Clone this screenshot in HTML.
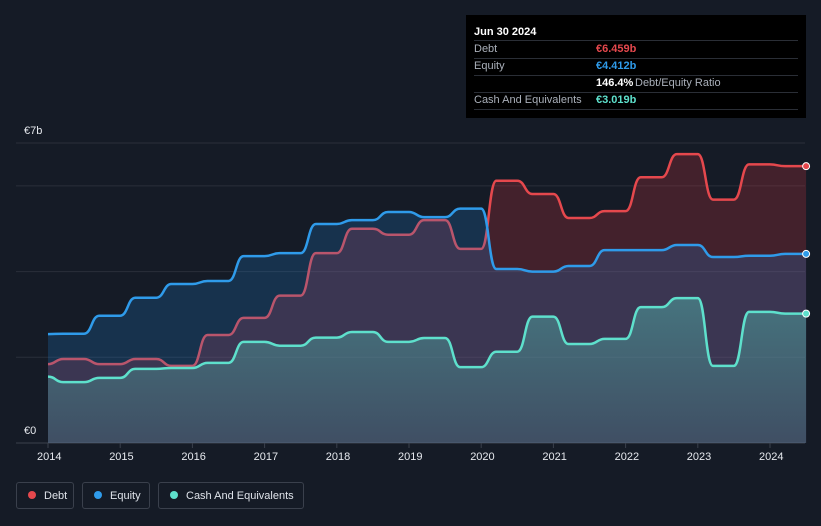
<!DOCTYPE html>
<html><head><meta charset="utf-8"><style>
body{margin:0;background:#151b26;font-family:"Liberation Sans",sans-serif;}
#wrap{position:relative;width:821px;height:526px;overflow:hidden;background:#151b26}
.tt{position:absolute;left:466px;top:15px;width:340px;height:103px;background:#000;color:#fff;font-size:11px}
.row{position:absolute;left:8px;right:8px;height:17px;border-bottom:1px solid #2a2e36;}
.row span{position:absolute;top:2px}
.lg{position:absolute;top:482px;height:27px;border:1px solid #3a404c;border-radius:3px;color:#dfe3ea;font-size:11px;line-height:27px;box-sizing:border-box}
.dot{display:inline-block;width:8px;height:8px;border-radius:50%;margin:0 8px 0 11px;vertical-align:-0px}
.ax{position:absolute;color:#e6e9ee;font-size:11px}
</style></head><body>
<div id="wrap">
<svg id="svg" width="821" height="526" style="position:absolute;left:0;top:0">
<defs>
<linearGradient id="gc" x1="0" y1="0" x2="0" y2="1"><stop offset="0" stop-color="#4fa6a2" stop-opacity="0.55"/><stop offset="1" stop-color="#4fa6a2" stop-opacity="0.22"/></linearGradient>
</defs>
<g id="grid"></g><g id="series"></g><g id="markers"></g>
</svg>
<div class="ax" style="left:24px;top:125px">€7b</div>
<div class="ax" style="left:24px;top:425px">€0</div>
<div id="xl"></div>
<div class="tt">
<div class="row" style="top:8px;border-bottom:1px solid #2a2e36;height:17px"><span style="font-weight:bold;top:3px">Jun 30 2024</span></div>
<div class="row" style="top:26px"><span style="color:#aab0ba">Debt</span><span style="left:122px;color:#e5484d;font-weight:bold">€6.459b</span></div>
<div class="row" style="top:43px"><span style="color:#aab0ba">Equity</span><span style="left:122px;color:#2f9bea;font-weight:bold">€4.412b</span></div>
<div class="row" style="top:60px"><span style="left:122px;font-weight:bold">146.4%</span><span style="left:161px;color:#aab0ba">Debt/Equity Ratio</span></div>
<div class="row" style="top:77px"><span style="color:#aab0ba">Cash And Equivalents</span><span style="left:122px;color:#5ee0cc;font-weight:bold">€3.019b</span></div>
</div>
<div class="lg" style="left:16px;width:58px"><span class="dot" style="background:#e5484d"></span>Debt</div>
<div class="lg" style="left:82px;width:68px"><span class="dot" style="background:#2f9bea"></span>Equity</div>
<div class="lg" style="left:158px;width:146px"><span class="dot" style="background:#5ee0cc"></span>Cash And Equivalents</div>
</div>
<script>
const periods=[2014,2014.5,2015,2015.5,2016,2016.5,2017,2017.5,2018,2018.5,2019,2019.5,2020,2020.5,2021,2021.5,2022,2022.5,2023,2023.5,2024,2024.5];
const debt=[1.84,1.96,1.84,1.96,1.80,2.52,2.92,3.44,4.43,5.0,4.86,5.2,4.53,6.12,5.81,5.25,5.41,6.2,6.74,5.68,6.50,6.459];
const equity=[2.54,2.55,2.97,3.39,3.71,3.78,4.36,4.43,5.11,5.20,5.39,5.27,5.47,4.06,4.00,4.13,4.50,4.50,4.62,4.34,4.37,4.412];
const cash=[1.55,1.42,1.52,1.73,1.75,1.87,2.36,2.27,2.46,2.59,2.36,2.45,1.77,2.13,2.95,2.31,2.43,3.17,3.38,1.80,3.06,3.019];
const yearTicks=[2014,2015,2016,2017,2018,2019,2020,2021,2022,2023,2024];
const yGrid=[0,2,4,6,7];
const X=t=>48+(t-2014)*72.2, Y=v=>443-v*300/7;
const NS='http://www.w3.org/2000/svg';
function mk(tag,attrs,parent){const e=document.createElementNS(NS,tag);for(const k in attrs)e.setAttribute(k,attrs[k]);parent.appendChild(e);return e;}
const grid=document.getElementById('grid');
yGrid.forEach(v=>{const l=mk('line',{x1:16,x2:805,y1:Y(v),y2:Y(v),stroke:v==0?'#3a404c':'#2a2f3a','stroke-width':1},grid);

});
const xl=document.getElementById('xl');
yearTicks.forEach(y=>{mk('line',{x1:X(y),x2:X(y),y1:443,y2:448,stroke:'#3a404c'},grid);
const d=document.createElement('div');d.className='ax';d.style.left=(X(y)-11)+'px';d.style.top='451px';d.textContent=y;


xl.appendChild(d);});
function path(vals){let p='';const w=21;
vals.forEach((v,i)=>{const x=X(periods[i]),y=Y(v);
if(i==0){p+=`M${x},${y}`;return;}
const px=X(periods[i-1]),py=Y(vals[i-1]);const s=x-w;const m=(px+s)/2;
p+=` C${m},${py} ${m},${y} ${s},${y} L${x},${y}`;});return p;}
const series=document.getElementById('series'),markers=document.getElementById('markers');
const x0=X(periods[0]),x1=X(periods[periods.length-1]);
[['debt',debt,'rgba(200,50,60,0.26)','#e5484d'],['equity',equity,'rgba(33,130,220,0.22)','#2f9bea'],['cash',cash,'url(#gc)','#5ee0cc']].forEach(([n,vals,f,c])=>{
const p=path(vals);
const a=mk('path',{d:p+` L${x1},443 L${x0},443 Z`,fill:f},series);


const l=mk('path',{d:p,fill:'none',stroke:c,'stroke-width':2.5},series);


const d=mk('circle',{cx:x1,cy:Y(vals[vals.length-1]),r:3.5,fill:c,stroke:'#fff','stroke-width':1},markers);


});
</script>
</body></html>
